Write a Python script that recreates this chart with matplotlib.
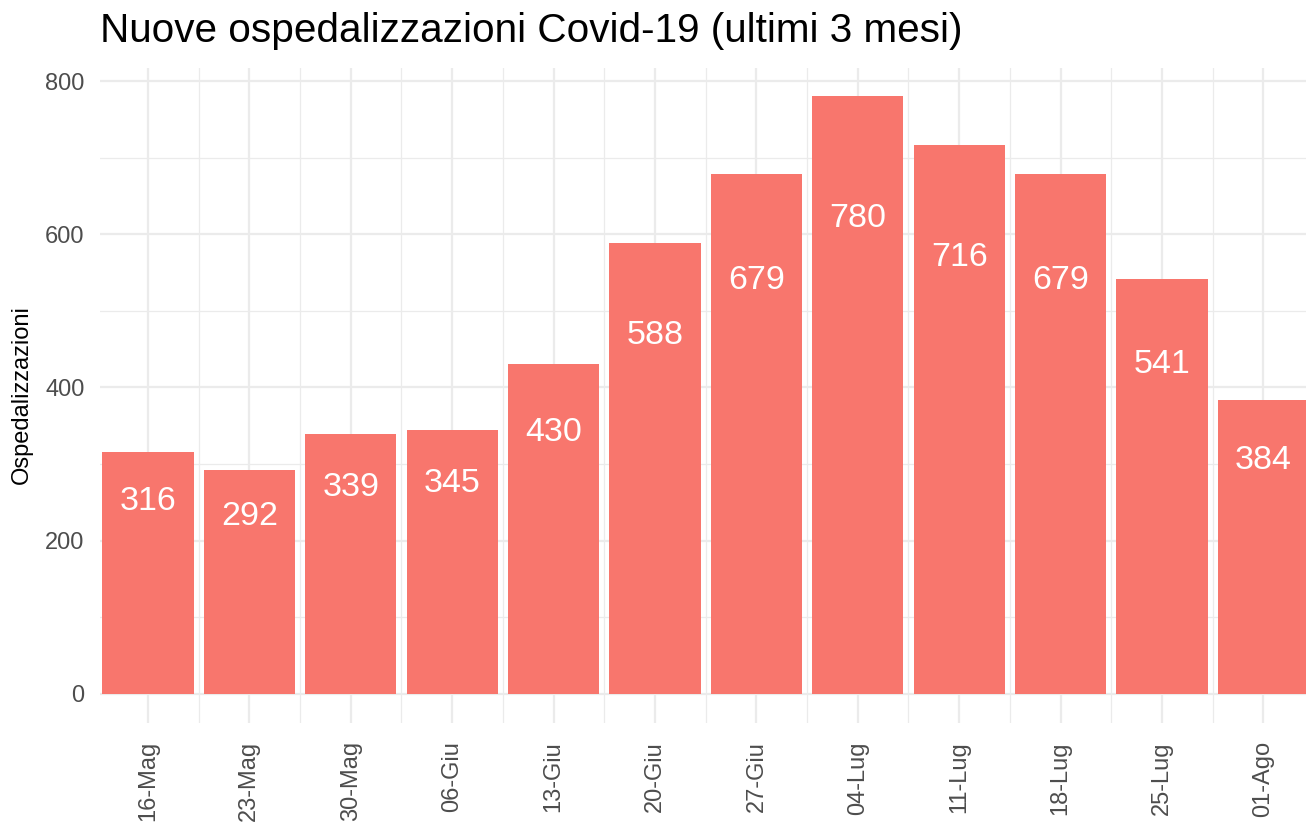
import numpy as np
import matplotlib.pyplot as plt
from matplotlib.ticker import MultipleLocator

plt.rcParams['font.family'] = ['Liberation Sans', 'DejaVu Sans']

dates = ['16-Mag', '23-Mag', '30-Mag', '06-Giu', '13-Giu', '20-Giu',
         '27-Giu', '04-Lug', '11-Lug', '18-Lug', '25-Lug', '01-Ago']
ricoveri = [316, 292, 339, 345, 430, 588, 679, 780, 716, 679, 541, 384]

W, H = 1306, 823
fig = plt.figure(figsize=(W / 100, H / 100), dpi=100)
ax = fig.add_axes([100 / W, 100 / H, 1 - 100 / W, (723 - 68) / H])

x = np.arange(1, len(dates) + 1)
ax.bar(x, ricoveri, width=0.9, color='#F8766D', zorder=2)

# etichette dentro le barre
for xi, v in zip(x, ricoveri):
    ax.text(xi, v * 0.795, str(v), ha='center', va='center',
            color='white', fontsize=24.5, zorder=3)

ax.set_xlim(0.527, 12.42)
ax.set_ylim(-38, 817)

ax.set_xticks(x)
ax.set_xticklabels(dates, rotation=90, fontsize=17, color='#4D4D4D')
ax.xaxis.set_minor_locator(MultipleLocator(1, offset=0.5))
ax.yaxis.set_major_locator(MultipleLocator(200))
ax.yaxis.set_minor_locator(MultipleLocator(100))
ax.tick_params(axis='y', labelsize=17, labelcolor='#4D4D4D')
ax.tick_params(which='both', length=0)
ax.tick_params(axis='x', pad=13)
ax.tick_params(axis='y', pad=11)

ax.grid(which='major', color='#EBEBEB', linewidth=1.6, zorder=0)
ax.grid(which='minor', color='#EBEBEB', linewidth=0.9, zorder=0)
ax.set_axisbelow(True)
for s in ax.spines.values():
    s.set_visible(False)

fig.text(100 / W, 1 - 42 / H, 'Nuove ospedalizzazioni Covid-19 (ultimi 3 mesi)',
         fontsize=29.2, ha='left', va='baseline', color='black')
fig.text(22 / W, 1 - 395 / H, 'Ospedalizzazioni', rotation=90,
         fontsize=17, ha='center', va='center', color='black')

fig.savefig('out.png', dpi=100)
